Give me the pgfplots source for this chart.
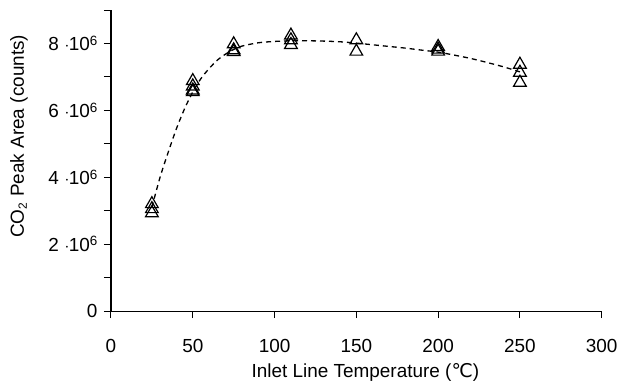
\documentclass[border=0pt]{standalone}
\usepackage{fontspec}
\setmainfont{Liberation Sans}
\newfontfamily\dejavu{DejaVu Sans}
\usepackage{pgfplots}
\pgfplotsset{compat=1.18}
\newcommand{\sci}[1]{#1 \kern0.5bp$\cdot$\kern-0.5bp10\raisebox{5.5bp}{\fontsize{13.5}{12}\selectfont 6}}
\begin{document}
\begin{tikzpicture}
\path (-111bp,-74bp) rectangle (528bp,311bp);
\begin{axis}[
  scale only axis,
  width=490.7bp, height=301bp,
  xmin=0, xmax=300, ymin=0, ymax=9e6,
  axis x line=bottom, axis y line=left,
  axis line style={-},
  x axis line style={line width=1bp},
  y axis line style={line width=1.6bp},
  tick align=outside,
  major tick length=7bp,
  every tick/.style={black, line width=1bp},
  font=\fontsize{19}{22}\selectfont,
  xtick={0,50,100,150,200,250,300},
  xticklabels={0,50,100,150,200,250,300},
  ytick={0,1e6,2e6,3e6,4e6,5e6,6e6,7e6,8e6,9e6},
  yticklabels={0,,\sci{2},,\sci{4},,\sci{6},,\sci{8},},
  scaled y ticks=false,
  xticklabel style={yshift=-18bp},
  yticklabel style={xshift=-3bp},
  xlabel={Inlet Line Temperature ({\dejavu ℃})},
  ylabel={CO\raisebox{-3bp}{\fontsize{12}{12}\selectfont 2}\hspace{6bp}Peak Area (counts)},
  xlabel style={at={(axis description cs:0.5,0)}, anchor=center, yshift=-61bp, xshift=9bp},
  ylabel style={at={(axis description cs:-0.1875,0.58)}, anchor=center},
  clip=false,
]
\addplot[black, line width=1.3bp, dash pattern=on 5bp off 4bp, smooth, tension=0.5] coordinates {
(25,3.1e6) (30,4.0e6) (35,4.75e6) (40,5.45e6) (45,6.05e6) (50,6.55e6) (55,6.95e6)
(60,7.25e6) (65,7.5e6) (70,7.68e6) (75,7.82e6) (80,7.92e6) (90,8.02e6) (100,8.06e6)
(110,8.08e6) (120,8.08e6) (130,8.07e6) (140,8.05e6) (150,8.01e6) (160,7.96e6)
(170,7.91e6) (180,7.86e6) (190,7.8e6) (200,7.74e6) (210,7.65e6) (220,7.55e6)
(230,7.43e6) (240,7.3e6) (250,7.15e6)
};
\addplot[only marks, mark=triangle, mark size=7.3bp, mark options={black, line width=1.2bp, fill=none, solid}] coordinates {
(25,3.2e6) (25,3.05e6) (25,2.93e6)
(50,6.88e6) (50,6.72e6) (50,6.6e6) (50,6.55e6)
(75,7.98e6) (75,7.8e6) (75,7.75e6)
(110,8.24e6) (110,8.1e6) (110,7.96e6)
(150,8.1e6) (150,7.76e6)
(200,7.9e6) (200,7.82e6) (200,7.76e6)
(250,7.37e6) (250,7.13e6) (250,6.83e6)
};
\end{axis}
\end{tikzpicture}
\end{document}
